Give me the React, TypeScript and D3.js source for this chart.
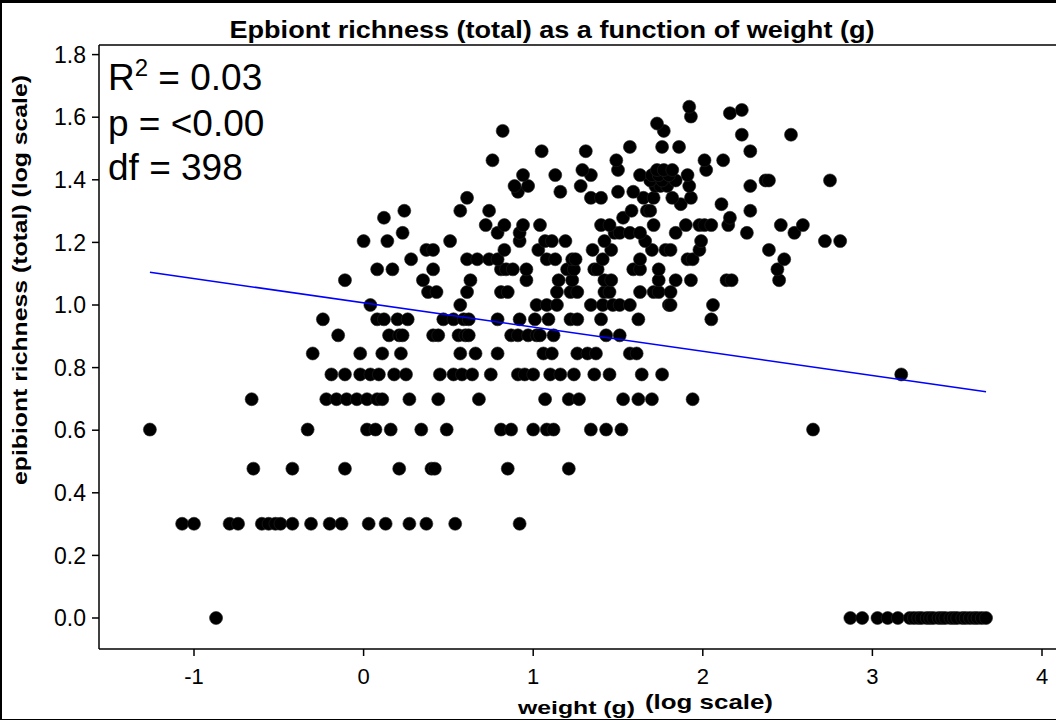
import React from "react";
import * as d3 from "d3";

// log10(weight g) values of the animals, grouped by epibiont richness (count)
const pointRows: { richness: number; logWeight: number[] }[] = [
  { richness: 1, logWeight: [-0.87, 2.87, 2.94, 3.03, 3.09, 3.15, 3.22, 3.245, 3.27, 3.29, 3.32, 3.34, 3.36, 3.39, 3.41, 3.43, 3.46, 3.48, 3.5, 3.53, 3.55, 3.575, 3.6, 3.62, 3.645, 3.67] },
  { richness: 2, logWeight: [-1.07, -1.0, -0.79, -0.74, -0.6, -0.56, -0.52, -0.49, -0.42, -0.31, -0.2, -0.13, 0.03, 0.13, 0.27, 0.37, 0.54, 0.92] },
  { richness: 3, logWeight: [-0.65, -0.42, -0.11, 0.21, 0.4, 0.42, 0.85, 1.21] },
  { richness: 4, logWeight: [-1.26, -0.33, 0.02, 0.07, 0.16, 0.34, 0.49, 0.81, 0.87, 1.0, 1.08, 1.12, 1.34, 1.43, 1.52, 2.65] },
  { richness: 5, logWeight: [-0.66, -0.22, -0.16, -0.1, -0.04, 0.02, 0.08, 0.11, 0.27, 0.44, 0.68, 1.07, 1.21, 1.27, 1.53, 1.62, 1.7, 1.94] },
  { richness: 6, logWeight: [-0.19, -0.11, -0.02, 0.04, 0.09, 0.18, 0.25, 0.45, 0.53, 0.58, 0.64, 0.75, 0.91, 0.95, 1.0, 1.1, 1.16, 1.24, 1.36, 1.45, 1.64, 1.76, 3.17] },
  { richness: 7, logWeight: [-0.3, -0.02, 0.11, 0.22, 0.57, 0.66, 0.79, 1.06, 1.11, 1.26, 1.32, 1.37, 1.57, 1.61] },
  { richness: 8, logWeight: [-0.15, 0.15, 0.21, 0.23, 0.41, 0.44, 0.56, 0.6, 0.62, 0.87, 0.91, 0.97, 1.02, 1.04, 1.12, 1.43, 1.51] },
  { richness: 9, logWeight: [-0.24, 0.08, 0.12, 0.2, 0.26, 0.47, 0.53, 0.59, 0.62, 0.79, 0.92, 1.01, 1.09, 1.22, 1.26, 1.4, 1.62, 2.05] },
  { richness: 10, logWeight: [0.04, 0.57, 1.02, 1.08, 1.14, 1.34, 1.41, 1.47, 1.51, 1.57, 1.8, 1.81, 2.06] },
  { richness: 11, logWeight: [0.38, 0.43, 0.61, 0.81, 0.85, 1.14, 1.22, 1.26, 1.42, 1.45, 1.63, 1.71, 1.74, 1.81] },
  { richness: 12, logWeight: [-0.11, 0.35, 0.63, 0.96, 1.15, 1.23, 1.42, 1.46, 1.74, 1.84, 1.93, 2.14, 2.17, 2.45] },
  { richness: 13, logWeight: [0.08, 0.17, 0.41, 0.81, 0.84, 0.88, 0.96, 1.2, 1.24, 1.36, 1.38, 1.59, 1.63, 1.74, 2.44] },
  { richness: 14, logWeight: [0.28, 0.61, 0.67, 0.74, 0.79, 1.08, 1.13, 1.23, 1.25, 1.41, 1.63, 1.91, 1.94, 2.48] },
  { richness: 15, logWeight: [0.37, 0.41, 0.83, 1.03, 1.35, 1.46, 1.7, 1.78, 1.81, 1.98, 2.39] },
  { richness: 16, logWeight: [0.0, 0.14, 0.51, 0.92, 1.07, 1.11, 1.19, 1.42, 1.66, 1.99, 2.72, 2.81] },
  { richness: 17, logWeight: [0.23, 0.79, 0.92, 1.48, 1.51, 1.57, 1.63, 1.84, 2.26, 2.54] },
  { richness: 18, logWeight: [0.72, 0.83, 0.94, 1.04, 1.4, 1.45, 1.71, 1.9, 1.98, 2.01, 2.05, 2.15, 2.46, 2.59] },
  { richness: 19, logWeight: [0.12, 1.53, 2.16] },
  { richness: 20, logWeight: [0.24, 0.57, 0.74, 1.58, 1.67, 1.69, 2.28] },
  { richness: 21, logWeight: [1.87, 2.11] },
  { richness: 22, logWeight: [0.61, 1.34, 1.4, 1.65, 1.71, 1.82, 1.93] },
  { richness: 23, logWeight: [0.91, 1.16, 1.5, 1.59] },
  { richness: 24, logWeight: [0.89, 0.97, 1.28, 1.72, 1.75, 1.79, 1.92, 2.28] },
  { richness: 25, logWeight: [1.69, 1.76, 1.84, 2.37, 2.39, 2.75] },
  { richness: 26, logWeight: [0.94, 1.13, 1.34, 1.63, 1.7, 1.74, 1.8, 1.91] },
  { richness: 27, logWeight: [1.29, 1.5, 1.73, 1.77, 1.82, 2.02] },
  { richness: 29, logWeight: [0.76, 1.49, 2.01, 2.12] },
  { richness: 31, logWeight: [1.05, 1.31, 2.28] },
  { richness: 32, logWeight: [1.57, 1.76, 1.86] },
  { richness: 35, logWeight: [2.23, 2.52] },
  { richness: 36, logWeight: [0.82, 1.77] },
  { richness: 38, logWeight: [1.73] },
  { richness: 40, logWeight: [1.93] },
  { richness: 41, logWeight: [2.16] },
  { richness: 42, logWeight: [2.23] },
  { richness: 43, logWeight: [1.92] },
];

const xTicks = [-1, 0, 1, 2, 3, 4];
const yTicks = [0, 0.2, 0.4, 0.6, 0.8, 1.0, 1.2, 1.4, 1.6, 1.8];
const fitIntercept = 1.007;
const fitSlope = -0.0774;
const statLines = ["R", "p = <0.00", "df = 398"];
const rSquared = "0.03";

const W = 1056;
const H = 721;
const plotLeft = 99;
const plotTop = 45;
const plotBottom = 649;
const plotRight = 1056;

export default function App() {
  const x = d3.scaleLinear().domain([-1, 4]).range([194, 1042]);
  const y = d3.scaleLinear().domain([0, 1.8]).range([618, 54.6]);

  const points = pointRows.flatMap((row) =>
    row.logWeight.map((lw) => ({ x: lw, y: Math.log10(row.richness) }))
  );
  const [xmin, xmax] = d3.extent(points, (p) => p.x) as [number, number];
  const line = d3
    .line<number>()
    .x((d) => x(d))
    .y((d) => y(fitIntercept + fitSlope * d));

  const font = "'Liberation Sans', Arial, sans-serif";

  return (
    <svg
      width={W}
      height={H}
      style={{ position: "absolute", left: 0, top: 0, background: "#fff" }}
      fontFamily={font}
    >
      <rect x={0} y={0} width={W} height={H} fill="#fff" />
      {/* outer frame */}
      <line x1={0} x2={W} y1={1.5} y2={1.5} stroke="#000" strokeWidth={3} />
      <line x1={1} x2={1} y1={0} y2={720} stroke="#000" strokeWidth={2} />
      <line x1={0} x2={W} y1={719.5} y2={719.5} stroke="#000" strokeWidth={1} />

      {/* title */}
      <text
        x={552}
        y={38}
        textAnchor="middle"
        fontWeight="bold"
        fontSize={24}
        textLength={645}
        lengthAdjust="spacingAndGlyphs"
      >
        Epbiont richness (total) as a function of weight (g)
      </text>

      {/* plot frame */}
      <line x1={plotLeft} x2={plotRight} y1={plotTop} y2={plotTop} stroke="#000" strokeWidth={1.5} />
      <line x1={plotLeft} x2={plotRight} y1={plotBottom} y2={plotBottom} stroke="#000" strokeWidth={1.5} />
      <line x1={plotLeft} x2={plotLeft} y1={plotTop} y2={plotBottom} stroke="#000" strokeWidth={1.5} />

      {/* x ticks */}
      {xTicks.map((t) => (
        <g key={"xt" + t}>
          <line x1={x(t)} x2={x(t)} y1={plotBottom} y2={plotBottom + 7} stroke="#000" strokeWidth={1.5} />
          <text x={x(t)} y={684} textAnchor="middle" fontSize={22}>
            {t}
          </text>
        </g>
      ))}
      {/* y ticks */}
      {yTicks.map((t) => (
        <g key={"yt" + t}>
          <line x1={plotLeft - 7} x2={plotLeft} y1={y(t)} y2={y(t)} stroke="#000" strokeWidth={1.5} />
          <text x={86} y={y(t)} dy="0.36em" textAnchor="end" fontSize={23}>
            {d3.format(".1f")(t)}
          </text>
        </g>
      ))}

      {/* axis labels */}
      <text x={518} y={714} fontWeight="bold" fontSize={19} textLength={117} lengthAdjust="spacingAndGlyphs">
        weight (g)
      </text>
      <text x={645} y={709} fontWeight="bold" fontSize={21} textLength={128} lengthAdjust="spacingAndGlyphs">
        (log scale)
      </text>
      <text
        transform="translate(27,280) rotate(-90)"
        textAnchor="middle"
        fontWeight="bold"
        fontSize={21}
        textLength={410}
        lengthAdjust="spacingAndGlyphs"
      >
        epibiont richness (total) (log scale)
      </text>

      {/* points */}
      {points.map((p, i) => (
        <circle key={i} cx={x(p.x)} cy={y(p.y)} r={6.5} fill="#000" stroke="#222" strokeWidth={0.6} />
      ))}

      {/* regression line */}
      <path d={line([xmin, xmax]) || ""} fill="none" stroke="#0000ff" strokeWidth={1.6} />

      {/* stats */}
      <text x={108} y={90} fontSize={37}>
        {statLines[0]}
        <tspan fontSize={24} dy={-14}>2</tspan>
        <tspan dy={14}>{" = " + rSquared}</tspan>
      </text>
      <text x={108} y={136} fontSize={37}>
        {statLines[1]}
      </text>
      <text x={108} y={180} fontSize={37}>
        {statLines[2]}
      </text>
    </svg>
  );
}
